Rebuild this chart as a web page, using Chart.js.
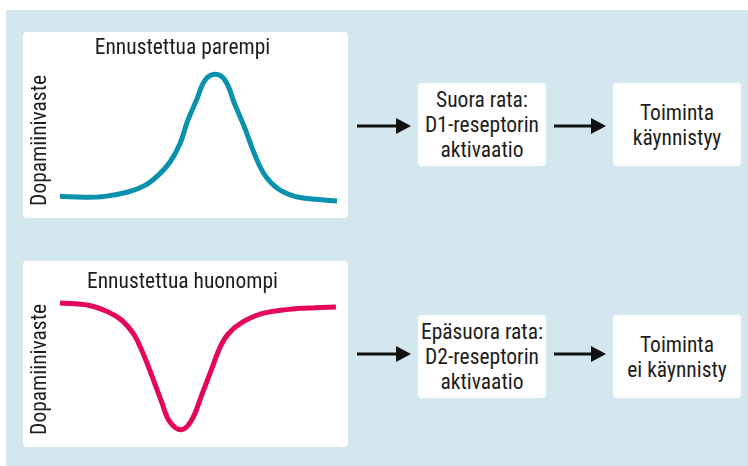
<!DOCTYPE html>
<html lang="fi">
<head>
<meta charset="utf-8">
<script src="https://cdn.jsdelivr.net/npm/chart.js@4.4.1/dist/chart.umd.min.js"></script>
<style>
  html, body { margin: 0; padding: 0; background: #ffffff; }
  body { width: 748px; height: 466px; position: relative; overflow: hidden;
         font-family: "Roboto Condensed", "Roboto", sans-serif; color: #1d1d1b; }
  #panel { position: absolute; left: 6px; top: 10px; width: 742px; height: 456px; background: #d4e7ee; }
  .card { position: absolute; background: #ffffff; border-radius: 4px; overflow: hidden; }
  .card canvas { display: block; }
  .box { position: absolute; background: #ffffff; border-radius: 4px; display: flex; align-items: center;
         justify-content: center; text-align: center; font-size: 21.5px; line-height: 25px; white-space: nowrap; }
  svg.arrows { position: absolute; left: 0; top: 0; }
</style>
</head>
<body>
<div id="panel"></div>

<div class="card" style="left:23px; top:32px; width:325px; height:186px;"><canvas id="c1" width="325" height="186"></canvas></div>
<div class="card" style="left:23px; top:261px; width:325px; height:186px;"><canvas id="c2" width="325" height="186"></canvas></div>

<div class="box" style="left:418px; top:83px; width:128px; height:83px;">Suora rata:<br>D1-reseptorin<br>aktivaatio</div>
<div class="box" style="left:613px; top:83px; width:128px; height:83px;">Toiminta<br>käynnistyy</div>
<div class="box" style="left:418px; top:315px; width:128px; height:83px;">Epäsuora rata:<br>D2-reseptorin<br>aktivaatio</div>
<div class="box" style="left:613px; top:315px; width:128px; height:83px;">Toiminta<br>ei käynnisty</div>

<svg class="arrows" width="748" height="466">
  <g fill="#111" stroke="#111">
    <line x1="357" y1="126" x2="400" y2="126" stroke-width="2.8"/>
    <polygon points="396,118 411,126 396,134" stroke="none"/>
    <line x1="554" y1="126" x2="595" y2="126" stroke-width="2.8"/>
    <polygon points="591,118 606,126 591,134" stroke="none"/>
    <line x1="357" y1="354" x2="400" y2="354" stroke-width="2.8"/>
    <polygon points="396,346 411,354 396,362" stroke="none"/>
    <line x1="554" y1="354" x2="595" y2="354" stroke-width="2.8"/>
    <polygon points="591,346 606,354 591,362" stroke="none"/>
  </g>
</svg>

<script>
// ---- data (time 0-100, response 0-100) ----
const titles = ["Ennustettua parempi", "Ennustettua huonompi"];
const yAxisLabel = "Dopamiinivaste";

const timeBetter     = [0, 9, 16.2, 24.5, 30.7, 35.4, 39.7, 43.3, 46.2, 49.5, 52.3, 56, 59.6, 63.2, 66.8, 70.4, 74, 78.7, 84.8, 92.1, 100];
const responseBetter = [9.4, 8.8, 9.4, 12.4, 17, 23.9, 33.1, 45.7, 62.1, 76.8, 89.4, 93.6, 89.4, 72.4, 56.1, 37.7, 23.9, 14.7, 9.4, 7.4, 6.2];

const timeWorse      = [0, 10.2, 17.4, 22.3, 26.5, 29.5, 33.1, 36.7, 39.7, 43.9, 47.5, 51.1, 54.8, 57.8, 60.8, 65.6, 72.8, 82.4, 92.1, 99.6];
const responseWorse  = [93.8, 92.2, 87.6, 81.9, 72.6, 61.2, 43.9, 25.5, 11.7, 6.4, 12.9, 30.1, 48.5, 63.4, 72.6, 80.2, 86.4, 89.4, 90.6, 91.0];

const colors = ["#0a91ad", "#e4075a"];

const FONT = "'Roboto Condensed', Roboto, sans-serif";

function makeChart(id, title, xs, ys, color, titlePad) {
  const pts = xs.map((x, i) => ({ x: x, y: ys[i] }));
  return new Chart(document.getElementById(id), {
    type: 'line',
    data: { datasets: [{ data: pts, borderColor: color, borderWidth: 5, pointRadius: 0,
                         tension: 0.4, fill: false, clip: false,
                         borderCapStyle: 'butt', borderJoinStyle: 'round' }] },
    options: {
      responsive: false, animation: false, events: [],
      layout: { padding: { left: 0, right: 6, top: 0, bottom: 2.2 } },
      plugins: {
        legend: { display: false }, tooltip: { enabled: false },
        title: { display: true, text: title, color: '#1d1d1b',
                 font: { family: FONT, size: 21.5, weight: 'normal', lineHeight: 1.2 },
                 padding: titlePad }
      },
      scales: {
        x: { type: 'linear', min: 0, max: 101.8, display: false },
        y: { type: 'linear', min: -4, max: 100, display: true,
             ticks: { display: false }, grid: { display: false, drawTicks: false }, border: { display: false },
             title: { display: true, text: yAxisLabel, color: '#1d1d1b',
                      font: { family: FONT, size: 21.5, weight: 'normal', lineHeight: 1.2 },
                      padding: { top: 5, bottom: 6.2 } } }
      }
    }
  });
}

makeChart('c1', titles[0], timeBetter, responseBetter, colors[0], { top: 4.1, bottom: 3.1 });
makeChart('c2', titles[1], timeWorse, responseWorse, colors[1], { top: 8.9, bottom: -1.7 });
</script>
</body>
</html>
